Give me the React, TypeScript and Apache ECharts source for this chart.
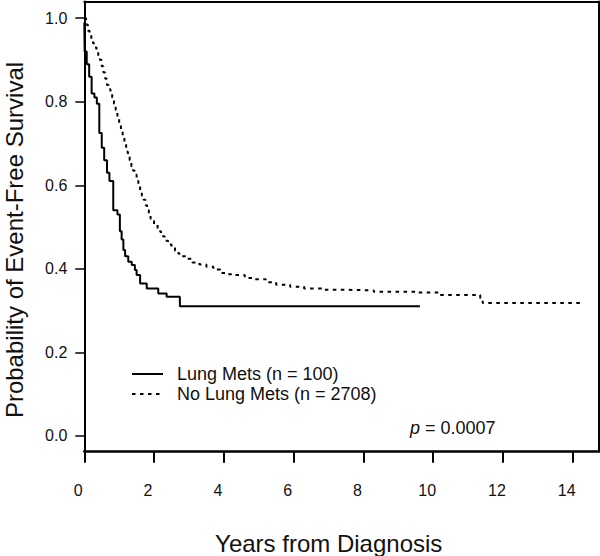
import React, { useEffect, useRef } from "react";
import * as echarts from "echarts";

// Kaplan-Meier step points (years, survival probability)
const lungMetsYears = [0, 0.01, 0.07, 0.14, 0.21, 0.29, 0.36, 0.43, 0.5, 0.57, 0.65, 0.72, 0.83, 0.95, 1.02, 1.07, 1.12, 1.17, 1.26, 1.36, 1.45, 1.5, 1.6, 1.79, 2.12, 2.36, 2.74, 9.62];
const lungMetsSurvival = [0.99, 0.92, 0.89, 0.86, 0.82, 0.81, 0.795, 0.725, 0.69, 0.66, 0.63, 0.61, 0.54, 0.53, 0.49, 0.47, 0.445, 0.43, 0.417, 0.409, 0.397, 0.385, 0.365, 0.353, 0.341, 0.333, 0.31, 0.31];

const noLungMetsYears = [0, 0.05, 0.1, 0.15, 0.2, 0.25, 0.3, 0.35, 0.4, 0.45, 0.5, 0.55, 0.6, 0.65, 0.7, 0.75, 0.8, 0.85, 0.9, 0.95, 1.0, 1.05, 1.1, 1.15, 1.2, 1.25, 1.3, 1.35, 1.4, 1.45, 1.5, 1.55, 1.6, 1.65, 1.7, 1.75, 1.8, 1.85, 1.9, 2.0, 2.1, 2.2, 2.3, 2.4, 2.5, 2.6, 2.7, 2.8, 2.95, 3.1, 3.3, 3.5, 3.7, 3.9, 4.1, 4.3, 4.6, 4.9, 5.2, 5.5, 5.9, 6.3, 6.8, 7.4, 7.9, 8.3, 9.5, 10.2, 11.35, 11.42, 14.25];
const noLungMetsSurvival = [1.0, 0.985, 0.97, 0.96, 0.95, 0.94, 0.93, 0.92, 0.91, 0.9, 0.885, 0.87, 0.855, 0.84, 0.83, 0.82, 0.81, 0.795, 0.78, 0.76, 0.745, 0.73, 0.715, 0.7, 0.68, 0.67, 0.66, 0.645, 0.635, 0.625, 0.61, 0.6, 0.588, 0.575, 0.565, 0.552, 0.54, 0.53, 0.52, 0.505, 0.49, 0.478, 0.467, 0.458, 0.45, 0.443, 0.436, 0.43, 0.424, 0.415, 0.41, 0.405, 0.398, 0.39, 0.387, 0.385, 0.378, 0.375, 0.368, 0.362, 0.357, 0.353, 0.35, 0.349, 0.348, 0.345, 0.343, 0.337, 0.325, 0.318, 0.318];

const seriesNames = ["Lung Mets (n = 100)", "No Lung Mets (n = 2708)"];
const xTicks = [0, 2, 4, 6, 8, 10, 12, 14];
const yTicks = [0, 0.2, 0.4, 0.6, 0.8, 1.0];
const xAxisTitle = "Years from Diagnosis";
const yAxisTitle = "Probability of Event-Free Survival";
const pValue = "0.0007";

// the boxed panel spans a little beyond the ticked range
const xRange = [0, 14.74];
const yRange = [-0.038, 1.04];

export default function App() {
  const ref = useRef<HTMLDivElement>(null);
  useEffect(() => {
    if (!ref.current) return;
    const chart = echarts.init(ref.current, null, { renderer: "svg" });
    const FONT = "'Liberation Sans', Arial, sans-serif";
    const INK = "#111";
    const borderAxis = (position: string, isX: boolean) => ({
      type: "value", gridIndex: 0, position,
      min: isX ? xRange[0] : yRange[0], max: isX ? xRange[1] : yRange[1],
      axisLine: { show: true, onZero: false, lineStyle: { color: "#000", width: 2 } },
      axisTick: { show: false }, axisLabel: { show: false }, splitLine: { show: false },
    });
    chart.setOption({
      animation: false,
      backgroundColor: "#fff",
      grid: [
        { left: 84.3, top: 1.5, width: 514.2, height: 450.2, outerBoundsMode: "none", containLabel: false },
      ],
      xAxis: [
        {
          type: "value", gridIndex: 0, position: "bottom", min: xRange[0], max: xRange[1],
          axisLine: { show: true, onZero: false, lineStyle: { color: "#000", width: 2.5 } },
          axisTick: { show: true, length: 11, customValues: xTicks, lineStyle: { color: "#000", width: 2 } },
          axisLabel: {
            margin: 31, fontSize: 16, color: INK, fontFamily: FONT, padding: [0, 12, 0, 0],
            customValues: xTicks,
          },
          splitLine: { show: false },
        },
        borderAxis("top", true),
      ],
      yAxis: [
        {
          type: "value", gridIndex: 0, position: "left", min: yRange[0], max: yRange[1],
          axisLine: { show: true, onZero: false, lineStyle: { color: "#000", width: 2 } },
          axisTick: { show: true, length: 9, customValues: yTicks, lineStyle: { color: "#000", width: 1.5 } },
          axisLabel: {
            margin: 17, fontSize: 16, color: INK, fontFamily: FONT, padding: [0, 0, 6, 0],
            customValues: yTicks,
            formatter: (v: number) => v.toFixed(1),
          },
          splitLine: { show: false },
        },
        borderAxis("right", false),
      ],
      legend: {
        orient: "vertical", left: 131, top: 365, padding: 0, itemWidth: 31, itemHeight: 14, itemGap: 2,
        itemStyle: { opacity: 0 },
        textStyle: { fontSize: 18, color: INK, fontFamily: FONT, padding: [0, 0, 0, 9] },
        data: seriesNames,
      },
      series: [
        {
          name: seriesNames[0], type: "line", xAxisIndex: 0, yAxisIndex: 0,
          data: lungMetsYears.map((t, i) => [t, lungMetsSurvival[i]]),
          step: "end", symbol: "none", showSymbol: false,
          lineStyle: { color: "#000", width: 2 }, itemStyle: { color: "#000" },
        },
        {
          name: seriesNames[1], type: "line", xAxisIndex: 0, yAxisIndex: 0,
          data: noLungMetsYears.map((t, i) => [t, noLungMetsSurvival[i]]),
          step: "end", symbol: "none", showSymbol: false,
          lineStyle: { color: "#000", width: 2, type: [3.5, 4.5] }, itemStyle: { color: "#000" },
        },
      ],
      graphic: [
        {
          type: "text", x: 14, y: 240, rotation: Math.PI / 2,
          style: {
            text: yAxisTitle, fontSize: 24, fontFamily: FONT, fill: INK,
            textAlign: "center", textVerticalAlign: "middle", align: "center", verticalAlign: "middle",
          },
        },
        {
          type: "text", x: 328.7, y: 543,
          style: {
            text: xAxisTitle, fontSize: 24, fontFamily: FONT, fill: INK,
            textAlign: "center", textVerticalAlign: "middle", align: "center", verticalAlign: "middle",
          },
        },
        {
          type: "text", x: 410, y: 428,
          style: {
            text: "{i|p} = " + pValue, fontSize: 18, fontFamily: FONT, fill: INK,
            textVerticalAlign: "middle", verticalAlign: "middle",
            rich: { i: { fontStyle: "italic", fontSize: 18, fontFamily: FONT, fill: INK } },
          },
        },
      ],
    });
    return () => chart.dispose();
  }, []);
  return <div ref={ref} style={{ position: "fixed", left: 0, top: 0, width: 600, height: 556 }} />;
}
